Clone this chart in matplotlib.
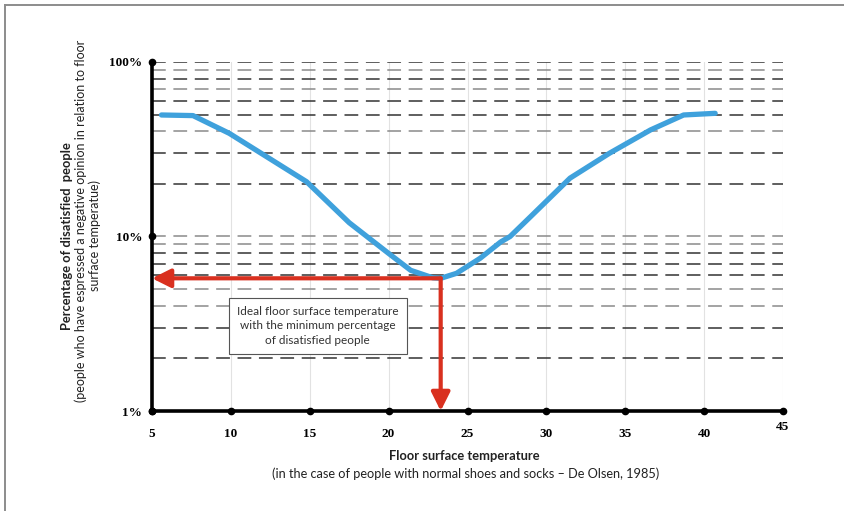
import matplotlib.pyplot as plt
import matplotlib.lines as mlines
import numpy as np

# floor temperature (C) vs. percentage of dissatisfied people
temp = [5.6, 7.6, 9.9, 14.8, 17.5, 20.0, 21.4, 22.8, 23.3, 24.3, 25.8,
        27.1, 27.7, 29.0, 31.5, 34.0, 36.6, 38.7, 40.7]
pdis = [49.7, 49.3, 39.0, 20.6, 12.0, 8.0, 6.4, 5.8, 5.76, 6.15, 7.5,
        9.3, 10.0, 13.0, 21.6, 30.0, 40.8, 49.7, 50.8]

# optimum marked by the red arrows
opt_temp = 23.3
opt_pdis = 5.76

xticks = [5, 10, 15, 20, 25, 30, 35, 40, 45]
yticks = [1, 10, 100]
ytick_labels = ["1%", "10%", "100%"]

# dashed grid levels (log minor lines) and their shade
grid_levels = [2, 3, 4, 5, 6, 7, 8, 9, 10, 20, 30, 40, 50, 60, 70, 80, 90, 100]
grid_dark = [1, 1, 0, 0, 1, 1, 1, 0, 0, 1, 1, 0, 1, 1, 0, 1, 0, 1]

fig = plt.figure(figsize=(8.44, 5.11), dpi=100)
ax = fig.add_axes([152/844, 1 - 411/511, (783-152)/844, (411-62)/511])

ax.set_yscale("log")
ax.set_xlim(5, 45)
ax.set_ylim(1, 100)

# faint vertical grid
for x in xticks[1:]:
    ax.axvline(x, color="#e2e2e2", lw=0.8, zorder=0)

# dashed horizontal grid
for lvl, dk in zip(grid_levels, grid_dark):
    ax.axhline(lvl, color="#333333" if dk else "#8a8a8a", lw=1.1,
               dashes=(9, 5), zorder=1)

ax.plot(temp, pdis, color="#3fa1dc", lw=3.8, solid_capstyle="round",
        solid_joinstyle="round", zorder=4)

# red arrows to the axes
arrow_kw = dict(arrowstyle="-|>,head_length=0.7,head_width=0.35",
                color="#d9301f", lw=3, shrinkA=0, shrinkB=0,
                mutation_scale=16)
ax.annotate("", xy=(5, opt_pdis), xytext=(opt_temp, opt_pdis),
            arrowprops=arrow_kw, zorder=5, annotation_clip=False)
ax.annotate("", xy=(opt_temp, 1), xytext=(opt_temp, opt_pdis),
            arrowprops=arrow_kw, zorder=5, annotation_clip=False)

ax.text(15.5, 3.07, "Ideal floor surface temperature\nwith the minimum percentage\nof disatisfied people",
        ha="center", va="center", fontsize=8.5, family="Lato", color="#333333",
        linespacing=1.4, zorder=6,
        bbox=dict(boxstyle="square,pad=0.7", fc="white", ec="#555555", lw=0.8))

# axes: thick black spines with dots at the ticks
for s in ["top", "right"]:
    ax.spines[s].set_visible(False)
for s in ["left", "bottom"]:
    ax.spines[s].set_linewidth(2.6)
    ax.spines[s].set_zorder(7)

ax.plot(xticks, [1] * len(xticks), "o", color="black", ms=4.5, clip_on=False, zorder=8)
ax.plot([5] * len(yticks), yticks, "o", color="black", ms=4.5, clip_on=False, zorder=8)

ax.set_xticks(xticks)
ax.set_xticklabels([str(t) for t in xticks])
ax.set_yticks(yticks)
ax.set_yticklabels(ytick_labels)
ax.yaxis.set_minor_locator(plt.NullLocator())
ax.tick_params(length=0)
ax.tick_params(axis="x", pad=12)
ax.tick_params(axis="y", pad=7)
for lab in ax.get_xticklabels() + ax.get_yticklabels():
    lab.set_family("Liberation Serif")
    lab.set_fontweight("bold")
    lab.set_fontsize(9.5)
ax.get_xticklabels()[-1].set_y(0.02)

# axis titles
fig.text(464/844, 1 - 456/511, "Floor surface temperature", ha="center", va="center",
         fontsize=9.3, family="Lato", fontweight="bold", color="#222222")
fig.text(466/844, 1 - 474/511,
         "(in the case of people with normal shoes and socks \u2013 De Olsen, 1985)",
         ha="center", va="center", fontsize=9.2, family="Lato", color="#222222")

fig.text(67/844, 1 - 236/511, "Percentage of disatisfied  people", rotation=90,
         ha="center", va="center", fontsize=9.3, family="Lato", fontweight="bold",
         color="#222222")
fig.text(81/844, 1 - 221/511,
         "(people who have espressed a negative opinion in relation to floor",
         rotation=90, ha="center", va="center", fontsize=9.0, family="Lato",
         color="#222222")
fig.text(95/844, 1 - 235/511, "surface temperatue)", rotation=90,
         ha="center", va="center", fontsize=9.0, family="Lato", color="#222222")

# outer frame
fig.add_artist(mlines.Line2D([5/844, 5/844], [0, 1 - 5/511], color="#8c8c8c", lw=1.4))
fig.add_artist(mlines.Line2D([5/844, 1], [1 - 5/511, 1 - 5/511], color="#8c8c8c", lw=1.4))

fig.savefig("out.png", dpi=100)
